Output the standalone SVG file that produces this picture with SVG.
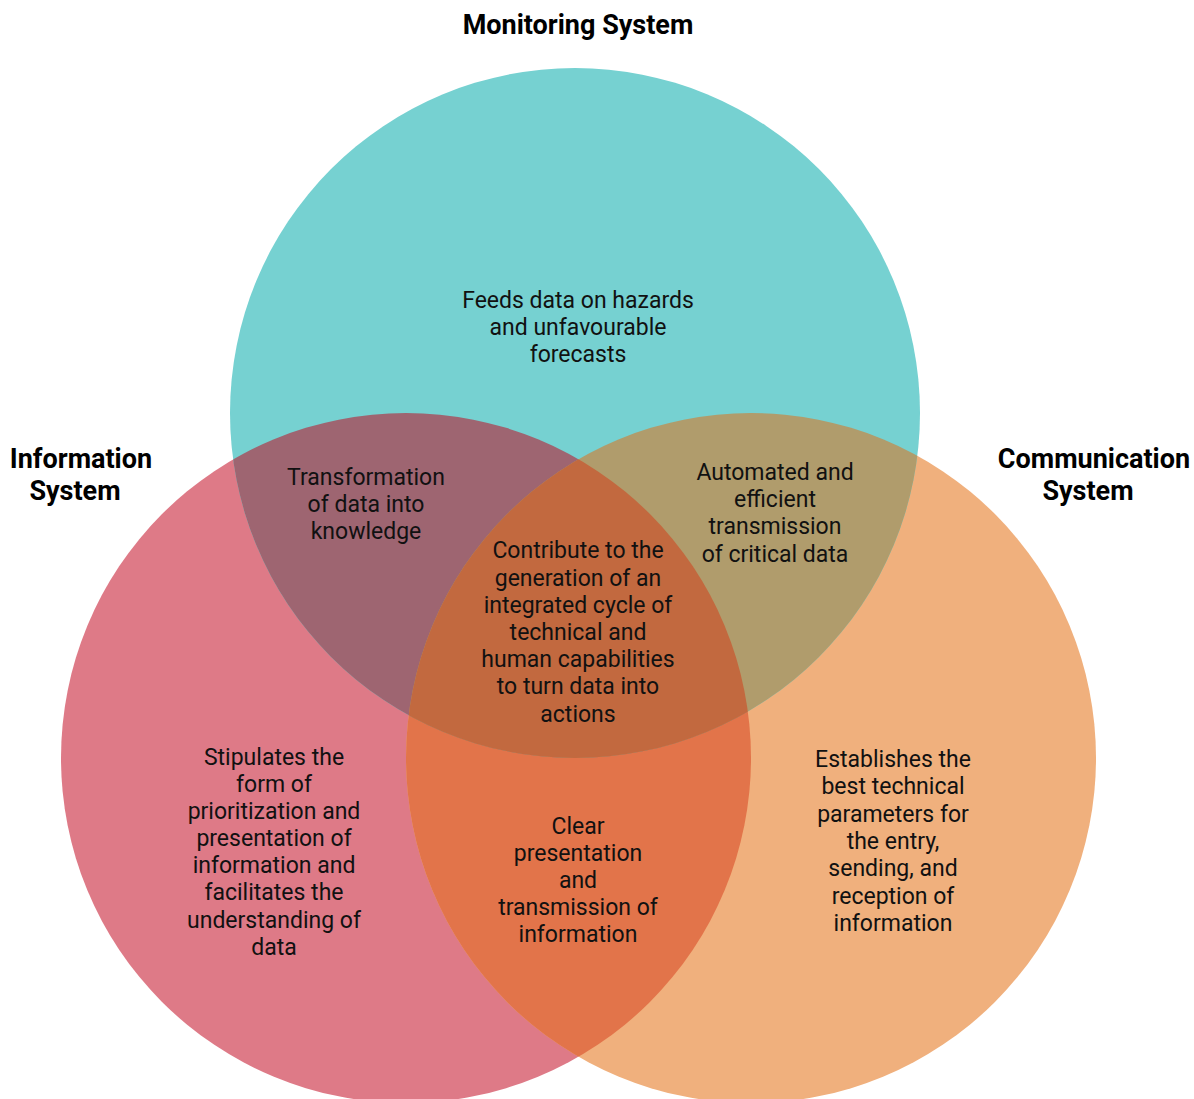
<svg xmlns="http://www.w3.org/2000/svg" width="1194" height="1099" viewBox="0 0 1194 1099">
<style>
.t{font-family:Roboto,"Liberation Sans",sans-serif;font-size:23px;fill:#111;text-anchor:middle}
.h{font-family:Roboto,"Liberation Sans",sans-serif;font-size:27px;font-weight:bold;fill:#000;text-anchor:middle}
</style>
<defs>
<clipPath id="cT"><circle cx="575" cy="413" r="345"/></clipPath>
<clipPath id="cL"><circle cx="406" cy="758" r="345"/></clipPath>
<clipPath id="cR"><circle cx="751" cy="758" r="345"/></clipPath>
</defs>
<rect width="1194" height="1099" fill="#fff"/>
<g id="circles">
<circle id="info" cx="406" cy="758" r="345" fill="#DE7A87"/>
<circle id="comm" cx="751" cy="758" r="345" fill="#F0B07D"/>
<circle id="mon" cx="575" cy="413" r="345" fill="#76D1D1"/>
<circle cx="751" cy="758" r="345" fill="#E2744A" clip-path="url(#cL)"/>
<circle cx="406" cy="758" r="345" fill="#9E6571" clip-path="url(#cT)"/>
<circle cx="751" cy="758" r="345" fill="#B09C6C" clip-path="url(#cT)"/>
<g clip-path="url(#cL)"><circle cx="751" cy="758" r="345" fill="#C2693F" clip-path="url(#cT)"/></g>
</g>
<g id="titles">
<text class="h" x="578" y="34">Monitoring System</text>
<text class="h" x="81" y="468">Information</text>
<text class="h" x="75" y="500">System</text>
<text class="h" x="1094" y="468">Communication</text>
<text class="h" x="1088" y="500">System</text>
</g>
<g id="n-mon">
<text class="t" x="578" y="308">Feeds data on hazards</text>
<text class="t" x="578" y="335">and unfavourable</text>
<text class="t" x="578" y="362">forecasts</text>
</g>
<g id="n-tl">
<text class="t" x="366" y="485">Transformation</text>
<text class="t" x="366" y="512">of data into</text>
<text class="t" x="366" y="539">knowledge</text>
</g>
<g id="n-tr">
<text class="t" x="775" y="480">Automated and</text>
<text class="t" x="775" y="507">efficient</text>
<text class="t" x="775" y="534">transmission</text>
<text class="t" x="775" y="562">of critical data</text>
</g>
<g id="n-center">
<text class="t" x="578" y="558">Contribute to the</text>
<text class="t" x="578" y="586">generation of an</text>
<text class="t" x="578" y="613">integrated cycle of</text>
<text class="t" x="578" y="640">technical and</text>
<text class="t" x="578" y="667">human capabilities</text>
<text class="t" x="578" y="694">to turn data into</text>
<text class="t" x="578" y="722">actions</text>
</g>
<g id="n-info">
<text class="t" x="274" y="765">Stipulates the</text>
<text class="t" x="274" y="792">form of</text>
<text class="t" x="274" y="819">prioritization and</text>
<text class="t" x="274" y="846">presentation of</text>
<text class="t" x="274" y="873">information and</text>
<text class="t" x="274" y="900">facilitates the</text>
<text class="t" x="274" y="928">understanding of</text>
<text class="t" x="274" y="955">data</text>
</g>
<g id="n-bottom">
<text class="t" x="578" y="834">Clear</text>
<text class="t" x="578" y="861">presentation</text>
<text class="t" x="578" y="888">and</text>
<text class="t" x="578" y="915">transmission of</text>
<text class="t" x="578" y="942">information</text>
</g>
<g id="n-comm">
<text class="t" x="893" y="767">Establishes the</text>
<text class="t" x="893" y="794">best technical</text>
<text class="t" x="893" y="822">parameters for</text>
<text class="t" x="893" y="849">the entry,</text>
<text class="t" x="893" y="876">sending, and</text>
<text class="t" x="893" y="904">reception of</text>
<text class="t" x="893" y="931">information</text>
</g>
</svg>
